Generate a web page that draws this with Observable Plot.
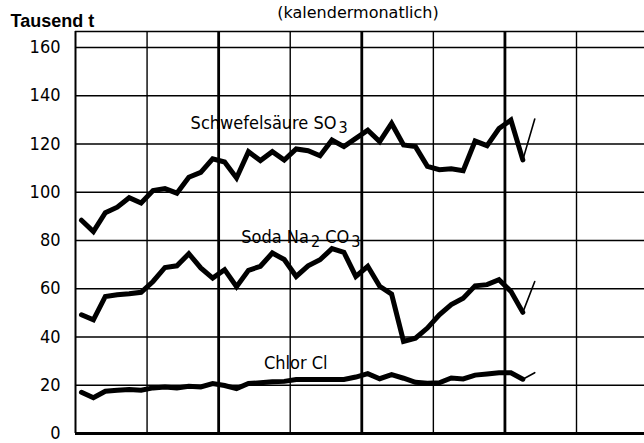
<!DOCTYPE html>
<html><head><meta charset="utf-8">
<script src="https://cdn.jsdelivr.net/npm/d3@7"></script>
<script src="https://cdn.jsdelivr.net/npm/@observablehq/plot@0.6"></script>
<style>body{margin:0;background:#fff} svg{display:block}</style>
</head><body><div id="chart"></div>
<script>
// month index (calendar months, position = middle of month)
const months = d3.range(39);
const schwefel = [88.4, 83.7, 91.5, 93.8, 97.7, 95.5, 100.7, 101.5, 99.6, 106.2, 108.2, 113.8, 112.5, 105.9, 116.8, 113.1, 116.8, 113.3, 117.9, 117.2, 115.1, 121.6, 118.9, 122.3, 125.7, 121.0, 128.5, 119.6, 118.9, 110.7, 109.3, 109.7, 108.9, 121.2, 119.3, 126.4, 129.9, 113.4, 130.3];
const soda = [49.2, 47.1, 56.8, 57.5, 57.9, 58.5, 63.0, 68.8, 69.5, 74.5, 68.6, 64.4, 67.9, 60.8, 67.6, 69.3, 74.8, 72.1, 65.1, 69.5, 72.0, 76.6, 75.1, 65.1, 69.3, 61.0, 57.8, 38.2, 39.5, 43.7, 49.2, 53.4, 56.1, 61.2, 61.7, 63.7, 58.9, 50.2, 63.0];
const chlor = [17.1, 14.8, 17.5, 17.9, 18.2, 17.9, 18.9, 19.3, 18.9, 19.6, 19.3, 20.7, 19.9, 18.6, 20.7, 21.0, 21.4, 21.6, 22.4, 22.4, 22.4, 22.4, 22.4, 23.4, 24.8, 22.7, 24.4, 22.9, 21.2, 20.8, 21.0, 23.0, 22.6, 24.2, 24.7, 25.2, 25.2, 22.5, 25.2];
const seriesNames = ["Schwefelsäure", "Soda", "Chlor"];
// label parts: [text, subscript] pairs
const labelParts = [
  [["Schwefelsäure SO", "3"]],
  [["Soda Na", "2"], [" CO", "3"]],
  [["Chlor Cl", ""]]
];
const labelTexts = ["Schwefelsäure SO3", "Soda Na2 CO3", "Chlor Cl"];
const labelMonth = [9.65, 13.9, 15.8];
const labelValue = [126.2, 78.8, 26.9];
const yTicks = [0, 20, 40, 60, 80, 100, 120, 140, 160];
const yearLines = [12, 24, 36];
const halfYearLines = [6, 18, 30, 42];
const yMax = 166.6;
const xMax = 47.7;

const all = [schwefel, soda, chlor];
const solid = [], thin = [];
all.forEach((vals, s) => {
  months.forEach((m, i) => {
    const row = {series: seriesNames[s], x: m + 0.5, y: vals[i]};
    if (i <= months.length - 2) solid.push(row);
    if (i >= months.length - 2) thin.push(row);
  });
});
const labels = labelTexts.map((t, i) => ({text: t, x: labelMonth[i], y: labelValue[i], idx: i}));

const chart = Plot.plot({
  width: 644, height: 443,
  marginLeft: 75, marginRight: 0, marginTop: 31, marginBottom: 10,
  style: {fontFamily: "'DejaVu Sans Condensed', 'DejaVu Sans', sans-serif", fontSize: "18px", background: "white", color: "black"},
  x: {domain: [0, xMax], axis: null},
  y: {domain: [0, yMax], axis: null},
  marks: [
    Plot.ruleY(yTicks.filter(d => d > 0), {stroke: "black", strokeWidth: 1.4}),
    Plot.ruleY([yMax], {stroke: "black", strokeWidth: 1.4}),
    Plot.ruleX(halfYearLines, {stroke: "black", strokeWidth: 1.4}),
    Plot.ruleX(yearLines, {stroke: "black", strokeWidth: 2.8}),
    Plot.ruleX([0], {stroke: "black", strokeWidth: 2}),
    Plot.ruleY([0], {stroke: "black", strokeWidth: 3}),
    Plot.axisY({ticks: yTicks, tickSize: 0, tickPadding: 15, fontSize: 18, label: null, anchor: "left"}),
    Plot.line(solid, {x: "x", y: "y", z: "series", stroke: "black", strokeWidth: 5, strokeLinejoin: "miter", strokeMiterlimit: 3}),
    Plot.line(thin, {x: "x", y: "y", z: "series", stroke: "black", strokeWidth: 1.6}),
    Plot.text(labels, {x: "x", y: "y", text: "text", textAnchor: "start", lineAnchor: "bottom", fontSize: 18, fill: "black", className: "series-label"}),
    Plot.text(["Tausend t"], {frameAnchor: "top-left", dx: -65, dy: -5, textAnchor: "start", lineAnchor: "bottom", fontFamily: "'Liberation Sans Narrow', sans-serif", fontWeight: "bold", fontSize: 18, fill: "black"}),
    Plot.text(["(kalendermonatlich)"], {frameAnchor: "top", dx: -2, dy: -14, lineAnchor: "bottom", fontFamily: "'DejaVu Sans', sans-serif", fontSize: 16, fill: "black", letterSpacing: "0.8px"})
  ]
});
// render subscripts as real lowered text
d3.select(chart).selectAll("g.series-label text").each(function(_, k) {
  const el = d3.select(this);
  const parts = labelParts[k];
  el.text(null);
  let shift = 0;
  parts.forEach(([main, sub]) => {
    el.append("tspan").attr("dy", -shift).text(main);
    shift = 0;
    if (sub) {
      el.append("tspan").attr("dx", 2).attr("dy", 4).attr("font-size", 16).text(sub);
      shift = 4;
    }
  });
});
document.getElementById("chart").appendChild(chart);
</script>
</body></html>
